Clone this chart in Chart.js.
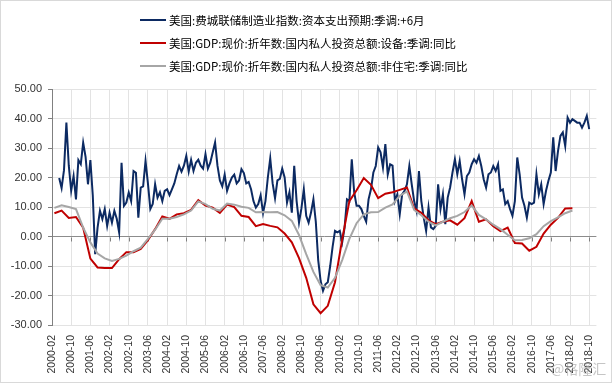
<!DOCTYPE html>
<html><head><meta charset="utf-8">
<script src="https://cdn.jsdelivr.net/npm/chart.js@4.4.0/dist/chart.umd.min.js"></script>
<style>
html,body{margin:0;padding:0;background:#fff;}
#wrap{position:relative;width:612px;height:383px;overflow:hidden;background:#fff;}
#c{position:absolute;left:0;top:0;}
#frame{position:absolute;left:0;top:0;width:612px;height:383px;box-sizing:border-box;border:1px solid #d9d9d9;pointer-events:none;}
#legend{position:absolute;left:140px;top:8px;font-family:"Noto Sans CJK SC",sans-serif;font-size:11.5px;color:#000;}
.item{display:flex;align-items:center;height:23px;white-space:nowrap;}
.sw{width:26px;height:2px;margin-right:3px;}
#wm{position:absolute;left:551px;top:358px;font-family:"Noto Sans CJK SC",sans-serif;font-size:14px;color:rgba(150,150,150,0.55);}
</style></head>
<body>
<div id="wrap">
<canvas id="c" width="612" height="383"></canvas>
<div id="legend"></div>
<div id="wm">@格隆汇</div>
<div id="frame"></div>
</div>
<script>
// ---- categories (monthly axis) ----
const axisStart = [2000, 2];   // first category 2000-02
const axisEnd = [2019, 1];     // last category 2019-01
const months = [];
for (let y = axisStart[0], m = axisStart[1]; y < axisEnd[0] || (y === axisEnd[0] && m <= axisEnd[1]); ) {
  months.push(y + '-' + String(m).padStart(2, '0'));
  m++; if (m > 12) { m = 1; y++; }
}
const tickEvery = 8;

// ---- series names ----
const seriesNames = [
  '美国:费城联储制造业指数:资本支出预期:季调:+6月',
  '美国:GDP:现价:折年数:国内私人投资总额:设备:季调:同比',
  '美国:GDP:现价:折年数:国内私人投资总额:非住宅:季调:同比'
];

// ---- blue: monthly, first value at 2000-05 ----
const blueStart = '2000-05';
const blueValues = [
  19.8, 16.4, 22.5, 38.6, 24, 15.5, 20.5, 12.6, 25.9, 24.5,
  31.8, 27, 17.7, 25.9, 14, -6, 3, 8.7, 5.9, 9.3,
  3.6, 8.1, 4.7, 8.7, 6, 1.4, 25, 10.4, 11.5, 14.9,
  12, 22.2, 21.6, 6.4, 16.6, 17, 25.6, 18, 9.3, 11,
  17.7, 13.2, 15, 12, 15.5, 16, 14, 16, 18, 21.1,
  23.9, 22, 24, 27.3, 22, 26, 22.2, 25, 26, 24,
  23, 27.9, 23, 25, 28.5, 31.9, 24, 19, 17, 21,
  15.5, 18, 20, 21, 18, 19, 22.8, 21.5, 18, 18.5,
  16, 12, 9.8, 11, 14, 8, 12, 20, 26.5, 18,
  13, 19, 19.5, 23, 20, 11.5, 15, 8.1, 24, 12,
  4.7, 9.5, 16, 7, 4.7, 8.1, 12.6, 5, -8, -15,
  -18.4, -16.2, -15.5, -10, -3.5, 1.9, 1.4, 1.9, -2, 3,
  12.6, 12, 26.2, 15, 10.4, 10.4, 9.3, 7, 5, 12.6,
  16, 21.7, 23.9, 30.2, 28.5, 23.4, 31.3, 21, 24.5, 24,
  12, 14.3, 7.6, 14.3, 15.5, 17.7, 23.9, 17.7, 12, 8.7,
  22.2, 12, 6.4, 1.9, 9.8, 3.1, 2.5, 3.6, 17.7, 9.3,
  14.3, 4.2, 13.2, 16.6, 21.7, 26.2, 21.1, 25.6, 19.4, 14.3,
  20.5, 21.7, 24.5, 26.2, 25, 27.3, 23.9, 19.4, 16.6, 21.1,
  21.7, 23.9, 22.2, 24.5, 15.5, 16, 11, 12, 9.3, 7,
  12, 26.8, 21.1, 13.2, 10.4, 6.4, 11.5, 11, 11.5, 21.1,
  14.3, 17.7, 11, 15.5, 18.9, 21.7, 33.6, 22.2, 29, 34.1,
  35.3, 30.7, 40.3, 38.6, 39.8, 39.2, 38.6, 38.6, 36.9, 38.6,
  40.9, 36.4
];

// ---- quarterly series: first value at 2000-03, every 3 months ----
const quarterStart = '2000-03';
const redValues = [
  7.9, 8.8, 6.3, 6.6, 3, -7.5, -10.5, -10.7, -10.7, -7.7,
  -5.3, -5.3, -4.2, -1.2, 2.5, 6.8, 6, 7.5, 7.9, 9,
  12.3, 10.5, 9.8, 8, 10.8, 10, 7, 6.6, 3.5, 4.2,
  3.6, 3.1, 1, -2, -7.3, -14, -23, -26, -23.5, -15.5,
  -1, 12, 15.7, 19.8, 17.5, 13, 14.5, 15, 15.8, 16.6,
  9.5, 8, 5.5, 4.2, 5, 5.5, 4, 6.2, 12, 5,
  5.8, 3.5, 1.8, 3, -2.2, -2.4, -4.8, -3.5, 1, 4,
  6.3, 9.5, 9.6
];
const grayValues = [
  9.7, 10.6, 10, 9.3, 3, -2, -5.8, -7.4, -8.3, -7.6,
  -6.5, -5, -3.8, -0.8, 2.3, 6, 6, 6.6, 7.5, 8.8,
  11.9, 11, 9.4, 8.8, 11.2, 10.8, 10.1, 9.7, 8.2, 8.3,
  8.2, 8.3, 7.2, 5.3, 0.5, -6, -12, -16.5, -17.3, -14,
  -8, -0.8, 4.5, 7.5, 8.2, 8.3, 9.8, 10.9, 13.8, 15.3,
  9, 7.2, 5, 3.8, 5, 6.2, 7, 8.3, 10.5, 7.3,
  5.8, 4, 2.5, 0.6, -1.3, -1.2, -0.6, 0.8, 3.5, 5.2,
  6.5, 7.9, 8.8
];

// ---- y axis ticks ----
const yMin = -30, yMax = 50, yStep = 10;

const colors = ['#0c2a62', '#c00000', '#a6a6a6'];

function monthly(start, vals) {
  const s = months.indexOf(start);
  return vals.map((v, k) => ({ x: months[s + k], y: v }));
}
function quarterly(start, vals) {
  const s = months.indexOf(start);
  return vals.map((v, k) => ({ x: months[s + 3 * k], y: v }));
}

const zeroTicks = {
  id: 'zeroTicks',
  beforeDatasetsDraw(chart) {
    const { ctx, scales: { x, y } } = chart;
    const y0 = Math.round(y.getPixelForValue(0)) + 0.5;
    ctx.save();
    ctx.strokeStyle = '#808080';
    ctx.lineWidth = 1;
    x.ticks.forEach((t, k) => {
      const px = Math.round(x.getPixelForTick(k)) + 0.5;
      ctx.beginPath(); ctx.moveTo(px, y0); ctx.lineTo(px, y0 + 4); ctx.stroke();
    });
    ctx.restore();
  }
};

const chart = new Chart(document.getElementById('c'), {
  type: 'line',
  data: {
    labels: months,
    datasets: [
      { label: seriesNames[0], data: monthly(blueStart, blueValues), borderColor: colors[0], borderWidth: 2, pointRadius: 0, tension: 0, order: 2 },
      { label: seriesNames[1], data: quarterly(quarterStart, redValues), borderColor: colors[1], borderWidth: 2, pointRadius: 0, tension: 0, order: 1, spanGaps: true },
      { label: seriesNames[2], data: quarterly(quarterStart, grayValues), borderColor: colors[2], borderWidth: 2, pointRadius: 0, tension: 0, order: 0, spanGaps: true }
    ]
  },
  options: {
    responsive: false,
    animation: false,
    layout: { padding: { left: 0, right: 15, top: 89, bottom: 0 } },
    plugins: { legend: { display: false }, tooltip: { enabled: false } },
    scales: {
      x: {
        type: 'category',
        offset: false,
        afterBuildTicks: s => { s.ticks = s.ticks.filter(t => t.value % tickEvery === 0); },
        afterFit: s => { s.height = 58; },
        grid: { color: '#e3e3e3', drawTicks: false },
        border: { display: false },
        ticks: { autoSkip: false, minRotation: 90, maxRotation: 90, padding: 10, color: '#333', font: { family: 'Liberation Sans', size: 10.5 } }
      },
      y: {
        min: yMin, max: yMax,
        afterFit: s => { s.width = 52; },
        grid: {
          color: c => (c.tick && c.tick.value === 0) ? '#8c8c8c' : '#e3e3e3',
          tickColor: '#808080', tickLength: 4
        },
        border: { color: '#808080' },
        ticks: { stepSize: yStep, padding: 6, color: '#333', font: { family: 'Liberation Sans', size: 11 }, callback: v => Number(v).toFixed(2) }
      }
    }
  },
  plugins: [zeroTicks]
});

// legend from datasets
const lg = document.getElementById('legend');
chart.data.datasets.forEach(ds => {
  const row = document.createElement('div'); row.className = 'item';
  const sw = document.createElement('span'); sw.className = 'sw'; sw.style.background = ds.borderColor;
  const tx = document.createElement('span'); tx.textContent = ds.label;
  row.appendChild(sw); row.appendChild(tx); lg.appendChild(row);
});
</script>
</body></html>
